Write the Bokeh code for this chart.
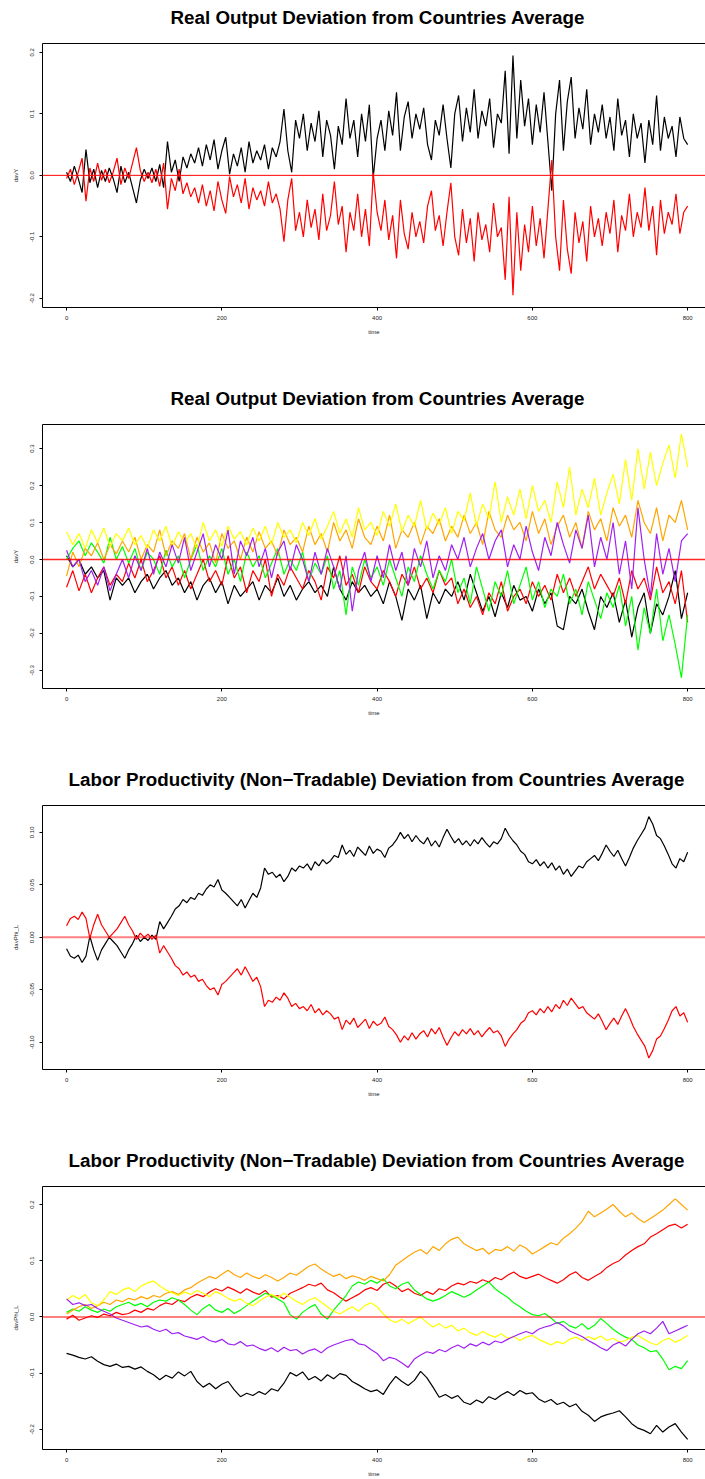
from bokeh.plotting import figure
from bokeh.layouts import column
from bokeh.models import Range1d, FixedTicker, Span, LinearAxis
from bokeh.embed import file_html
from bokeh.resources import INLINE

# ---------------------------------------------------------------- time grids
time_fine = list(range(0, 801, 5))     # panels 1 and 3
time_coarse = list(range(0, 801, 8))   # panels 2 and 4

x_ticks = [0, 200, 400, 600, 800]

# ---------------------------------------------------------------- panel 1: real output, two countries
p1_black = [
    0.005, -0.01, 0.015, -0.005, -0.028, 0.042, -0.012, 0.01, -0.02, 0.008,
    -0.01, 0.012, -0.005, -0.028, 0.015, -0.012, 0.005, -0.02, -0.045, -0.008,
    0.01, -0.005, 0.012, -0.01, 0.018, -0.02, 0.055, 0.005, 0.025, -0.01,
    0.03, 0.012, 0.035, 0.02, 0.045, 0.015, 0.05, 0.025, 0.058, 0.01,
    0.04, 0.062, 0.002, 0.035, 0.015, 0.045, 0.005, 0.055, 0.02, 0.04,
    0.025, 0.05, 0.01, 0.045, 0.03, 0.055, 0.108, 0.04, 0.005, 0.09,
    0.06, 0.1, 0.04, 0.085, 0.055, 0.105, 0.03, 0.09, 0.065, 0.01,
    0.08, 0.05, 0.125, 0.06, 0.09, 0.03, 0.1, 0.055, 0.115, -0.004,
    0.06, 0.09, 0.04, 0.105, 0.065, 0.135, 0.04, 0.095, 0.12, 0.06,
    0.1, 0.075, 0.11, 0.05, 0.025, 0.09, 0.065, 0.115, 0.06, 0.012,
    0.1, 0.13, 0.055, 0.11, 0.07, 0.14, 0.06, 0.105, 0.08, 0.125,
    0.045, 0.1, 0.085, 0.17, 0.035, 0.195, 0.06, 0.155, 0.08, 0.125,
    0.05, 0.115, 0.07, 0.135, 0.055, -0.025, 0.1, 0.155, 0.04, 0.12,
    0.16, 0.06, 0.11, 0.075, 0.14, 0.05, 0.1, 0.07, 0.115, 0.06,
    0.095, 0.04, 0.125, 0.065, 0.09, 0.03, 0.1, 0.06, 0.085, 0.02,
    0.09, 0.05, 0.13, 0.04, 0.095, 0.06, 0.08, 0.03, 0.095, 0.06,
    0.05,
]
p1_red = [
    -0.005, 0.01, -0.015, 0.005, 0.028, -0.042, 0.012, -0.01, 0.02, -0.008,
    0.01, -0.012, 0.005, 0.028, -0.015, 0.012, -0.005, 0.02, 0.045, 0.008,
    -0.01, 0.005, -0.012, 0.01, -0.018, 0.02, -0.055, -0.005, -0.025, 0.01,
    -0.03, -0.012, -0.035, -0.02, -0.045, -0.015, -0.05, -0.025, -0.058, -0.01,
    -0.04, -0.062, -0.002, -0.035, -0.015, -0.045, -0.005, -0.055, -0.02, -0.04,
    -0.025, -0.05, -0.01, -0.045, -0.03, -0.055, -0.108, -0.04, -0.005, -0.09,
    -0.06, -0.1, -0.04, -0.085, -0.055, -0.105, -0.03, -0.09, -0.065, -0.01,
    -0.08, -0.05, -0.125, -0.06, -0.09, -0.03, -0.1, -0.055, -0.115, 0.004,
    -0.06, -0.09, -0.04, -0.105, -0.065, -0.135, -0.04, -0.095, -0.12, -0.06,
    -0.1, -0.075, -0.11, -0.05, -0.025, -0.09, -0.065, -0.115, -0.06, -0.012,
    -0.1, -0.13, -0.055, -0.11, -0.07, -0.14, -0.06, -0.105, -0.08, -0.125,
    -0.045, -0.1, -0.085, -0.17, -0.035, -0.195, -0.06, -0.155, -0.08, -0.125,
    -0.05, -0.115, -0.07, -0.135, -0.055, 0.025, -0.1, -0.155, -0.04, -0.12,
    -0.16, -0.06, -0.11, -0.075, -0.14, -0.05, -0.1, -0.07, -0.115, -0.06,
    -0.095, -0.04, -0.125, -0.065, -0.09, -0.03, -0.1, -0.06, -0.085, -0.02,
    -0.09, -0.05, -0.13, -0.04, -0.095, -0.06, -0.08, -0.03, -0.095, -0.06,
    -0.05,
]
p1_y_ticks = [-0.2, -0.1, 0.0, 0.1, 0.2]
p1_y_labels = ["-0.2", "-0.1", "0.0", "0.1", "0.2"]

# ---------------------------------------------------------------- panel 2: real output, six countries
p2_black = [
    0.01, -0.02, 0.0, -0.04, -0.02, -0.05, -0.03, -0.11, -0.05, -0.07,
    -0.05, -0.09, -0.06, -0.04, -0.08, -0.05, -0.03, -0.07, -0.05, -0.09,
    -0.06, -0.11, -0.07, -0.05, -0.09, -0.06, -0.12, -0.07, -0.1, -0.08,
    -0.06, -0.11, -0.07, -0.09, -0.05, -0.1, -0.07, -0.11, -0.08, -0.06,
    -0.09, -0.07, -0.1, -0.02, -0.08, -0.11, -0.06, -0.09, -0.07, -0.1,
    -0.08, -0.12, -0.06, -0.1, -0.165, -0.08, -0.11, -0.07, -0.16, -0.09,
    -0.12, -0.08, -0.1, -0.06, -0.11, -0.04, -0.09, -0.14, -0.1, -0.155,
    -0.09, -0.13, -0.07, -0.11, -0.1, -0.14, -0.08, -0.12, -0.09, -0.18,
    -0.19, -0.1, -0.12, -0.08, -0.14, -0.19, -0.1, -0.13, -0.09, -0.17,
    -0.11, -0.21, -0.13, -0.09, -0.2, -0.12, -0.15, -0.1, -0.03, -0.16,
    -0.09,
]
p2_red = [
    -0.075, -0.03, -0.085, -0.04, -0.09, -0.05, -0.02, -0.07, -0.04, -0.06,
    -0.01, -0.05, 0.0, -0.06, -0.03, 0.01, -0.05, -0.02, -0.07, -0.03,
    -0.08, -0.04, 0.0, -0.06, -0.03, -0.07, 0.01, -0.05, -0.02, -0.09,
    -0.03, -0.06, 0.0, -0.1, -0.04, -0.07, -0.02, -0.05, -0.08, -0.03,
    -0.06, -0.11, -0.02, -0.05, 0.01, -0.07, -0.04, -0.09, -0.02, -0.06,
    -0.08, -0.03, -0.06, -0.1, -0.04, -0.07, -0.02, -0.08, -0.05, -0.09,
    -0.03, -0.07, -0.05, -0.12, -0.08, -0.13, -0.1, -0.15, -0.09, -0.12,
    -0.06, -0.14, -0.1, -0.08, -0.12, -0.06, -0.1, -0.07, -0.11, -0.04,
    -0.09, -0.05, -0.1, -0.06, -0.02, -0.08, -0.04, -0.07, -0.1, -0.05,
    -0.12, -0.03, -0.08, -0.05, -0.11, -0.02, -0.09, -0.06, -0.12, -0.03,
    -0.17,
]
p2_green = [
    0.0, 0.03, 0.05, 0.01, 0.045, 0.02, -0.01, 0.06, 0.0, 0.035,
    -0.01, 0.03, -0.03, 0.02, 0.0, -0.04, 0.025, -0.02, 0.01, -0.05,
    0.0, 0.04, -0.03, 0.01, -0.02, 0.03, -0.04, 0.0, -0.06, 0.02,
    -0.02, 0.01, -0.05, -0.01, 0.03, -0.04, 0.0, -0.03, 0.02, -0.06,
    -0.01, -0.04, 0.01, -0.08, -0.03, -0.15, -0.02, -0.07, 0.0, -0.05,
    -0.02, -0.07, 0.0, -0.05, -0.1, -0.02, -0.06, 0.01, -0.04, -0.08,
    -0.03, -0.06, 0.0, -0.09, -0.05, -0.12, -0.02, -0.08, -0.14, -0.06,
    -0.1, -0.03, -0.12, -0.07, -0.02, -0.11, -0.06, -0.13, -0.08, -0.1,
    -0.04, -0.12, -0.08, -0.15, -0.06, -0.11, -0.16, -0.09, -0.13, -0.07,
    -0.18, -0.1, -0.245, -0.13, -0.2, -0.08, -0.22, -0.15, -0.23, -0.32,
    -0.15,
]
p2_orange = [
    -0.045, 0.02, -0.02, 0.03, 0.01, 0.045, 0.0, 0.04, 0.015, 0.05,
    0.02, 0.06, 0.0, 0.04, 0.02, 0.08, 0.01, 0.05, 0.03, 0.07,
    0.0, 0.06, 0.02, 0.045, -0.01, 0.07, 0.03, 0.05, 0.0, 0.06,
    0.02, 0.075, 0.03, 0.05, 0.01, 0.08, 0.04, 0.06, 0.02, 0.09,
    0.04, 0.07, 0.02, 0.1, 0.05, 0.08, 0.03, 0.11, 0.06, 0.04,
    0.09, 0.05, 0.12, 0.03, 0.08, 0.06, 0.1, 0.04, 0.09, 0.07,
    0.11, 0.05, 0.09, 0.06, 0.12, 0.07, 0.1, 0.04, 0.13, 0.08,
    0.06, 0.12, 0.08, 0.1, 0.05, 0.13, 0.07, 0.11, 0.04, 0.09,
    0.12, 0.06, 0.1, 0.03, 0.13, 0.08, 0.11, 0.05, 0.14, 0.09,
    0.12, 0.06, 0.16, 0.1, 0.07, 0.14, 0.05, 0.12, 0.1, 0.16,
    0.08,
]
p2_yellow = [
    0.075, 0.04, 0.07, 0.03, 0.08, 0.045, 0.085, 0.035, 0.07, 0.05,
    0.085, 0.04, 0.065, 0.03, 0.08, 0.05, 0.09, 0.035, 0.075, 0.045,
    0.07, 0.03, 0.1, 0.05, 0.08, 0.035, 0.09, 0.055, 0.075, 0.04,
    0.085, 0.05, 0.09, 0.04, 0.1, 0.06, 0.08, 0.045, 0.1, 0.065,
    0.11, 0.055, 0.09, 0.13, 0.07, 0.11, 0.06, 0.14, 0.08, 0.1,
    0.065, 0.13, 0.09, 0.15, 0.075, 0.12, 0.09, 0.16, 0.08, 0.125,
    0.095, 0.14, 0.07, 0.13, 0.105, 0.18, 0.09, 0.15, 0.11, 0.21,
    0.1, 0.17, 0.12, 0.19, 0.11, 0.2, 0.13, 0.16, 0.1, 0.21,
    0.14, 0.25, 0.12, 0.19, 0.14, 0.22, 0.12, 0.18, 0.23, 0.15,
    0.27, 0.16, 0.3, 0.19, 0.29, 0.2, 0.26, 0.31, 0.22, 0.34,
    0.25,
]
p2_purple = [
    0.025, -0.02, 0.0, -0.06, -0.03, -0.07, -0.02, -0.085, -0.04, 0.0,
    -0.05, 0.01, -0.03, 0.03, -0.04, 0.02, -0.02, 0.04, -0.01, 0.06,
    -0.03, 0.02, 0.07, -0.02, 0.04, 0.0, 0.08, -0.04, 0.05, 0.01,
    0.06, -0.02, 0.03, -0.05, 0.02, 0.05, -0.03, 0.04, 0.0, -0.06,
    0.02, -0.04, 0.03, -0.02, -0.08, 0.01, -0.14, -0.03, 0.02, -0.06,
    0.01, -0.05, 0.04, -0.03, 0.02, -0.07, 0.03, -0.02, 0.05, -0.05,
    0.01, -0.03, 0.04, 0.0, 0.06, -0.02, 0.03, 0.07, 0.0, 0.05,
    0.08, -0.02, 0.04, 0.0, 0.09, 0.02, -0.03, 0.06, 0.01, 0.1,
    0.04, -0.01, 0.08, 0.03, 0.12, -0.02, 0.06, 0.0, 0.1, -0.04,
    0.05, -0.08, 0.14, 0.0, -0.1, 0.07, -0.04, 0.03, -0.06, 0.05,
    0.07,
]
p2_y_ticks = [-0.3, -0.2, -0.1, 0.0, 0.1, 0.2, 0.3]
p2_y_labels = ["-0.3", "-0.2", "-0.1", "0.0", "0.1", "0.2", "0.3"]

# ---------------------------------------------------------------- panel 3: labor productivity, two countries
p3_black = [
    -0.011, -0.018, -0.02, -0.017, -0.024, -0.018, 0.001, -0.012, -0.022, -0.012,
    -0.006, 0.0, -0.004, -0.008, -0.014, -0.02, -0.012, -0.006, 0.002, -0.004,
    0.0, -0.003, 0.002, -0.002, 0.015, 0.008, 0.014, 0.02, 0.027, 0.03,
    0.036, 0.033, 0.038, 0.036, 0.042, 0.04, 0.046, 0.05, 0.048, 0.055,
    0.045, 0.042, 0.038, 0.034, 0.03, 0.036, 0.028, 0.035, 0.042, 0.038,
    0.047, 0.066, 0.06, 0.062, 0.057, 0.06, 0.053, 0.058, 0.066, 0.063,
    0.068, 0.066, 0.07, 0.064, 0.072, 0.068, 0.074, 0.07, 0.073, 0.078,
    0.076, 0.088, 0.079, 0.083, 0.077, 0.086, 0.082, 0.078, 0.087, 0.08,
    0.084, 0.082, 0.076, 0.085, 0.088, 0.093, 0.1, 0.094, 0.098, 0.091,
    0.097, 0.092, 0.089, 0.095, 0.087, 0.092, 0.086, 0.095, 0.103, 0.096,
    0.09, 0.094, 0.088, 0.092, 0.087, 0.093, 0.089, 0.095, 0.09, 0.086,
    0.091, 0.089, 0.094, 0.104, 0.097, 0.092, 0.088, 0.082, 0.079, 0.072,
    0.07, 0.074, 0.068, 0.072, 0.066, 0.071, 0.064, 0.068, 0.06, 0.065,
    0.058, 0.063, 0.068, 0.066, 0.072, 0.075, 0.078, 0.073, 0.08, 0.088,
    0.082, 0.077, 0.083, 0.075, 0.068, 0.076, 0.085, 0.092, 0.098, 0.104,
    0.115, 0.108, 0.097, 0.094, 0.087, 0.079, 0.07, 0.066, 0.075, 0.072,
    0.081,
]
p3_red = [
    0.011, 0.018, 0.02, 0.017, 0.024, 0.018, -0.001, 0.012, 0.022, 0.012,
    0.006, 0.0, 0.004, 0.008, 0.014, 0.02, 0.012, 0.006, -0.002, 0.004,
    0.0, 0.003, -0.002, 0.002, -0.015, -0.008, -0.014, -0.02, -0.027, -0.03,
    -0.036, -0.033, -0.038, -0.036, -0.042, -0.04, -0.046, -0.05, -0.048, -0.055,
    -0.045, -0.042, -0.038, -0.034, -0.03, -0.036, -0.028, -0.035, -0.042, -0.038,
    -0.047, -0.066, -0.06, -0.062, -0.057, -0.06, -0.053, -0.058, -0.066, -0.063,
    -0.068, -0.066, -0.07, -0.064, -0.072, -0.068, -0.074, -0.07, -0.073, -0.078,
    -0.076, -0.088, -0.079, -0.083, -0.077, -0.086, -0.082, -0.078, -0.087, -0.08,
    -0.084, -0.082, -0.076, -0.085, -0.088, -0.093, -0.1, -0.094, -0.098, -0.091,
    -0.097, -0.092, -0.089, -0.095, -0.087, -0.092, -0.086, -0.095, -0.103, -0.096,
    -0.09, -0.094, -0.088, -0.092, -0.087, -0.093, -0.089, -0.095, -0.09, -0.086,
    -0.091, -0.089, -0.094, -0.104, -0.097, -0.092, -0.088, -0.082, -0.079, -0.072,
    -0.07, -0.074, -0.068, -0.072, -0.066, -0.071, -0.064, -0.068, -0.06, -0.065,
    -0.058, -0.063, -0.068, -0.066, -0.072, -0.075, -0.078, -0.073, -0.08, -0.088,
    -0.082, -0.077, -0.083, -0.075, -0.068, -0.076, -0.085, -0.092, -0.098, -0.104,
    -0.115, -0.108, -0.097, -0.094, -0.087, -0.079, -0.07, -0.066, -0.075, -0.072,
    -0.081,
]
p3_y_ticks = [-0.10, -0.05, 0.0, 0.05, 0.10]
p3_y_labels = ["-0.10", "-0.05", "0.00", "0.05", "0.10"]

# ---------------------------------------------------------------- panel 4: labor productivity, six countries
p4_black = [
    -0.065, -0.068, -0.072, -0.075, -0.071, -0.079, -0.085, -0.088, -0.084, -0.09,
    -0.088, -0.093, -0.089, -0.097, -0.103, -0.112, -0.104, -0.109, -0.098, -0.105,
    -0.097, -0.115, -0.125, -0.118, -0.128, -0.12, -0.115, -0.13, -0.142, -0.136,
    -0.14, -0.133, -0.138, -0.128, -0.132, -0.118, -0.099, -0.105, -0.098, -0.112,
    -0.106, -0.114, -0.103, -0.11, -0.101, -0.104, -0.115, -0.121, -0.128, -0.133,
    -0.13, -0.138, -0.12, -0.106, -0.115, -0.122, -0.113, -0.097, -0.108, -0.125,
    -0.143, -0.138, -0.145, -0.14, -0.152, -0.156, -0.148, -0.153, -0.142, -0.147,
    -0.139, -0.133, -0.14, -0.131, -0.137, -0.135, -0.146, -0.152, -0.147, -0.156,
    -0.152, -0.16, -0.155, -0.168, -0.175, -0.186, -0.178, -0.174, -0.171, -0.167,
    -0.178, -0.19, -0.198, -0.202, -0.208, -0.193, -0.205, -0.196, -0.19, -0.205,
    -0.218,
]
p4_red = [
    -0.004, 0.003, -0.006, -0.002, 0.002, -0.001, 0.005, 0.002, 0.008, 0.004,
    0.006, 0.012, 0.008, 0.015, 0.012, 0.02, 0.025, 0.022, 0.03, 0.027,
    0.035, 0.04, 0.036, 0.044, 0.05, 0.046, 0.053, 0.048, 0.042, 0.05,
    0.044, 0.04, 0.047, 0.035, 0.038, 0.032, 0.042, 0.047, 0.052, 0.058,
    0.055, 0.06, 0.048, 0.043, 0.035, 0.028, 0.034, 0.04, 0.048, 0.052,
    0.047, 0.058, 0.062, 0.055, 0.045, 0.05, 0.042, 0.038, 0.045, 0.04,
    0.05, 0.047, 0.055, 0.06, 0.057, 0.063, 0.06, 0.066, 0.062, 0.07,
    0.066, 0.074, 0.08, 0.072, 0.068, 0.072, 0.076, 0.07, 0.065, 0.06,
    0.066, 0.075, 0.08, 0.07, 0.065, 0.072, 0.078, 0.088, 0.095, 0.1,
    0.11, 0.118, 0.125, 0.13, 0.142, 0.148, 0.155, 0.162, 0.165, 0.158,
    0.165,
]
p4_green = [
    0.008, 0.014, 0.01, 0.018, 0.012, 0.008, 0.014, 0.01, 0.018, 0.022,
    0.026, 0.02, 0.024, 0.018, 0.026, 0.03, 0.028, 0.034, 0.03, 0.022,
    0.012, 0.004, 0.015, 0.022, 0.012, 0.008, 0.015, 0.006, 0.012, 0.02,
    0.028, 0.035, 0.042, 0.038, 0.032, 0.025, 0.004, -0.004, 0.008, 0.016,
    0.022, 0.005, -0.004, 0.012, 0.025, 0.038, 0.055, 0.062, 0.058, 0.065,
    0.06, 0.068, 0.055, 0.05, 0.058, 0.062, 0.048, 0.04, 0.032, 0.028,
    0.032, 0.038, 0.045, 0.04, 0.035, 0.04, 0.048, 0.055, 0.062, 0.05,
    0.042, 0.035, 0.025, 0.018, 0.01, 0.004, 0.002, 0.006, -0.002, -0.012,
    -0.008, -0.016, -0.02, -0.012, -0.022, -0.015, -0.003, -0.012, -0.022, -0.03,
    -0.036, -0.04, -0.05, -0.055, -0.062, -0.06, -0.075, -0.094, -0.088, -0.092,
    -0.078,
]
p4_orange = [
    0.005, 0.012, 0.018, 0.022, 0.015, 0.02, 0.026, 0.022, 0.03, 0.027,
    0.033, 0.03, 0.036, 0.032, 0.038, 0.035, 0.042, 0.045, 0.04, 0.048,
    0.052, 0.06, 0.066, 0.072, 0.068, 0.076, 0.083, 0.075, 0.07, 0.078,
    0.072, 0.068, 0.075, 0.07, 0.064, 0.07, 0.078, 0.074, 0.082, 0.09,
    0.094, 0.085, 0.078, 0.072, 0.076, 0.068, 0.073, 0.07, 0.065, 0.072,
    0.068, 0.064, 0.075, 0.092, 0.1, 0.108, 0.115, 0.12, 0.112, 0.125,
    0.118, 0.13, 0.138, 0.142, 0.13, 0.124, 0.118, 0.122, 0.112, 0.12,
    0.118, 0.125, 0.117, 0.128, 0.122, 0.112, 0.118, 0.125, 0.132, 0.128,
    0.14, 0.148, 0.158, 0.17, 0.188, 0.178, 0.185, 0.192, 0.2, 0.188,
    0.178, 0.185, 0.175, 0.168, 0.175, 0.182, 0.19, 0.2, 0.21, 0.2,
    0.19,
]
p4_yellow = [
    0.03, 0.038, 0.032, 0.04, 0.025, 0.02, 0.03, 0.045, 0.04, 0.048,
    0.052, 0.045, 0.055, 0.06, 0.064, 0.055, 0.048, 0.043, 0.038, 0.044,
    0.04, 0.047, 0.042, 0.036, 0.045, 0.04, 0.033, 0.028, 0.032, 0.024,
    0.02, 0.028, 0.035, 0.04, 0.034, 0.042, 0.035, 0.028, 0.022, 0.03,
    0.034, 0.026, 0.018, 0.01, 0.005, 0.012, 0.018, 0.01, 0.02, 0.025,
    0.018, 0.005, -0.005, -0.01, -0.004, -0.012, -0.006, 0.0, -0.01, -0.018,
    -0.012, -0.02, -0.015, -0.025, -0.02, -0.028, -0.033, -0.026, -0.032, -0.036,
    -0.03, -0.038, -0.035, -0.042, -0.036, -0.033, -0.04, -0.045, -0.05, -0.044,
    -0.048, -0.04, -0.036, -0.042, -0.035, -0.04, -0.034, -0.042, -0.038, -0.045,
    -0.042, -0.036, -0.033, -0.04, -0.046, -0.05, -0.042, -0.038, -0.045, -0.04,
    -0.033,
]
p4_purple = [
    0.032, 0.022, 0.025, 0.02, 0.022, 0.015, 0.01, 0.005, -0.002, -0.006,
    -0.01, -0.014, -0.018, -0.016, -0.022, -0.026, -0.022, -0.03, -0.028, -0.034,
    -0.037, -0.04, -0.035, -0.042, -0.045, -0.04, -0.048, -0.05, -0.044, -0.052,
    -0.05, -0.056, -0.06, -0.055, -0.062, -0.054, -0.06, -0.058, -0.066, -0.06,
    -0.057, -0.064, -0.055, -0.05, -0.046, -0.042, -0.04, -0.048, -0.05, -0.058,
    -0.065, -0.078, -0.072, -0.075, -0.082, -0.09, -0.075, -0.068, -0.062, -0.065,
    -0.058, -0.062, -0.055, -0.05, -0.056, -0.048, -0.052, -0.045, -0.05, -0.043,
    -0.046, -0.04, -0.035, -0.03, -0.026, -0.03, -0.022, -0.018, -0.015, -0.01,
    -0.016, -0.025, -0.03, -0.035, -0.042, -0.048, -0.055, -0.06, -0.05, -0.045,
    -0.052, -0.04, -0.03, -0.025, -0.03, -0.02, -0.008, -0.03, -0.025, -0.02,
    -0.015,
]
p4_y_ticks = [-0.2, -0.1, 0.0, 0.1, 0.2]
p4_y_labels = ["-0.2", "-0.1", "0.0", "0.1", "0.2"]

# ---------------------------------------------------------------- styling
FONT = "Liberation Sans"
COLORS = {
    "black": "#000000",
    "red": "#FF0000",
    "green": "#00FF00",
    "orange": "#FFA500",
    "yellow": "#FFFF00",
    "purple": "#A020F0",
}
TITLE_OUTPUT = "Real Output Deviation from Countries Average"
TITLE_PROD = "Labor Productivity (Non\u2212Tradable) Deviation from Countries Average"
X_END = 823


def make_panel(title, title_offset, ylabel, y_lim, y_ticks, y_labels, times,
               series, height, bottom, zero_width, zero_alpha):
    p = figure(
        width=705, height=height,
        x_range=Range1d(-31, X_END), y_range=Range1d(*y_lim),
        output_backend="svg", toolbar_location=None,
        min_border_left=42, min_border_right=0,
        min_border_top=43, min_border_bottom=bottom,
        background_fill_color="white", border_fill_color="white",
    )
    p.title.text = title
    p.title.text_font = FONT
    p.title.text_font_size = "18.8px"
    p.title.text_font_style = "bold"
    p.title.text_color = "#000000"
    p.title.align = "left"
    p.title.offset = title_offset
    p.title.standoff = 5

    p.outline_line_color = None
    p.grid.visible = False

    xax = p.below[0]
    yax = p.left[0]
    xax.ticker = FixedTicker(ticks=x_ticks)
    yax.ticker = FixedTicker(ticks=y_ticks)
    yax.major_label_overrides = {t: s for t, s in zip(y_ticks, y_labels)}
    yax.major_label_orientation = "vertical"
    xax.axis_label = "time"
    yax.axis_label = ylabel
    for ax in (xax, yax):
        ax.axis_line_color = "black"
        ax.major_tick_line_color = "black"
        ax.major_tick_out = 3
        ax.major_tick_in = 0
        ax.minor_tick_line_color = None
        ax.major_label_text_font = FONT
        ax.major_label_text_font_size = "6px"
        ax.major_label_text_color = "#222222"
        ax.axis_label_text_font = FONT
        ax.axis_label_text_font_size = "6px"
        ax.axis_label_text_font_style = "normal"
        ax.axis_label_text_color = "#222222"
    xax.major_label_standoff = 5
    xax.axis_label_standoff = 6
    yax.major_label_standoff = 5
    yax.axis_label_standoff = 9

    # top edge of the box drawn as a bare axis line; its single white tick at
    # the far right edge only reserves room between the box and the title.
    # The right edge of the box runs off the page.
    top = LinearAxis(ticker=FixedTicker(ticks=[X_END]), major_tick_out=13,
                     major_tick_in=0, major_label_standoff=0,
                     major_label_overrides={X_END: ""},
                     major_label_text_font_size="0px",
                     major_tick_line_color="white", minor_tick_line_color=None,
                     axis_line_color="black", axis_line_width=1)
    p.add_layout(top, "above")

    for name, values in series:
        p.line(times, values, line_color=COLORS[name], line_width=1.2)

    p.add_layout(Span(location=0, dimension="width", line_color="#FF0000",
                      line_width=zero_width, line_alpha=zero_alpha))
    return p


p1 = make_panel(TITLE_OUTPUT, 128, "davY", (-0.215, 0.2145), p1_y_ticks, p1_y_labels,
                time_fine, [("black", p1_black), ("red", p1_red)],
                381, 74, 1, 1.0)
p2 = make_panel(TITLE_OUTPUT, 128, "davY", (-0.349, 0.365), p2_y_ticks, p2_y_labels,
                time_coarse,
                [("black", p2_black), ("red", p2_red), ("green", p2_green),
                 ("orange", p2_orange), ("yellow", p2_yellow), ("purple", p2_purple)],
                381, 74, 1.5, 0.85)
p3 = make_panel(TITLE_PROD, 26, "davPhi_L", (-0.126, 0.1256), p3_y_ticks, p3_y_labels,
                time_fine, [("black", p3_black), ("red", p3_red)],
                381, 74, 2, 0.5)
p4 = make_panel(TITLE_PROD, 26, "davPhi_L", (-0.236, 0.232), p4_y_ticks, p4_y_labels,
                time_coarse,
                [("black", p4_black), ("red", p4_red), ("green", p4_green),
                 ("orange", p4_orange), ("yellow", p4_yellow), ("purple", p4_purple)],
                336, 30, 2, 0.5)

layout = column(p1, p2, p3, p4, spacing=0)
open("out.html", "w").write(file_html(layout, INLINE, title="Deviation from Countries Average"))
